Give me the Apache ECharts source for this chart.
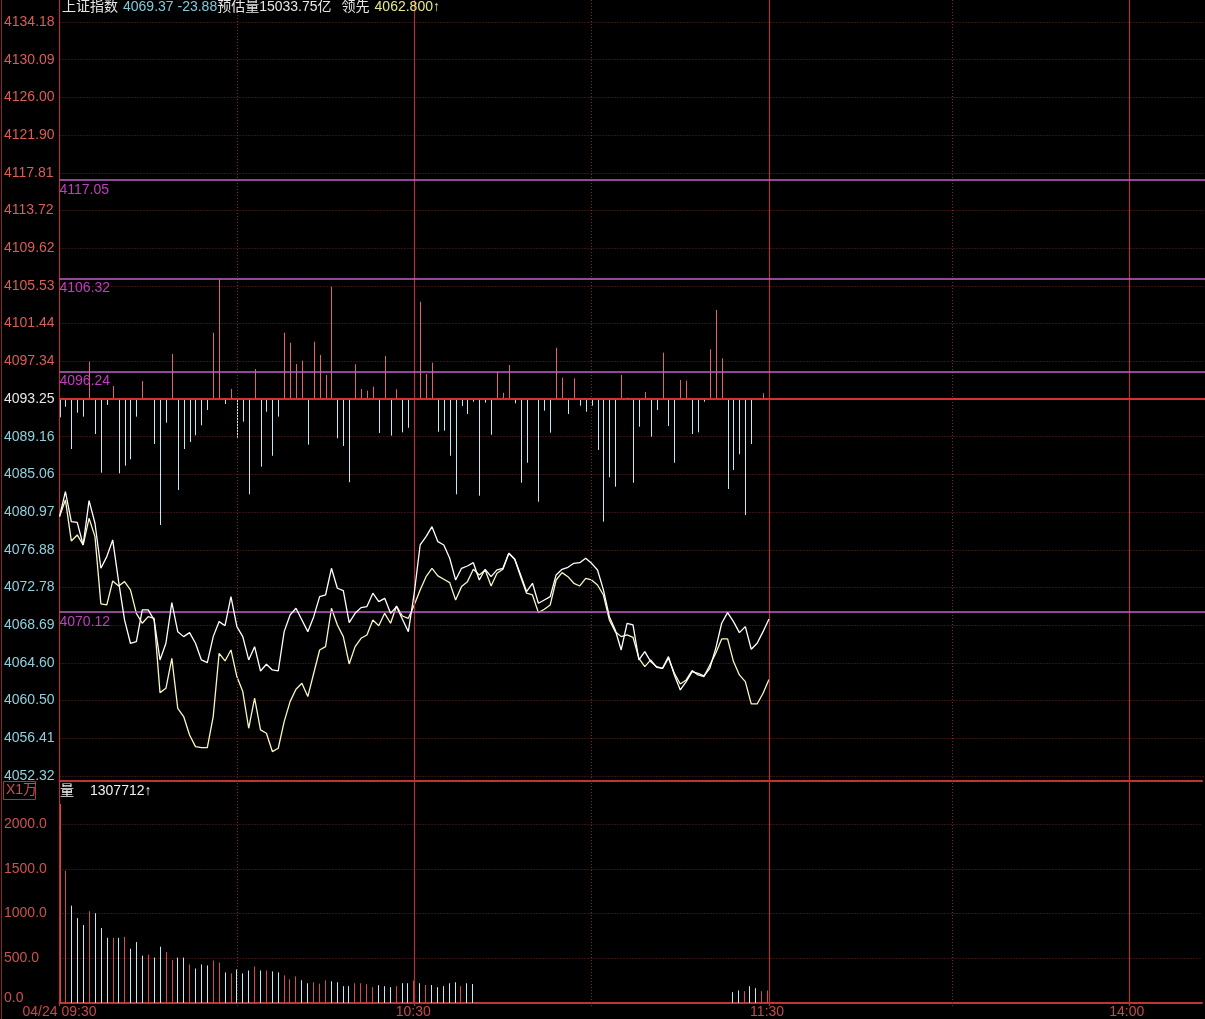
<!DOCTYPE html>
<html><head><meta charset="utf-8">
<script src="https://cdn.jsdelivr.net/npm/echarts@6/dist/echarts.min.js"></script>
<style>html,body{margin:0;padding:0;background:#000;}#c{width:1205px;height:1019px;}</style>
</head><body><div id="c"></div>
<script>
// ---------- data ----------
const prevClose = 4093.25;
const headerName = '上证指数';
const lastPrice = '4069.37';
const lastChange = '-23.88';
const estVolume = '15033.75亿';
const leadLabel = '领先';
const leadValue = '4062.800';
const volLabel = '1307712';
const volUnit = 'X1万';

const priceAxis = { min: 4052.3175, max: 4134.1825, interval: 4.09325 };
const volAxis = { min: 0, max: 2483, interval: 500 };
const refLines = [4117.05, 4106.32, 4096.24, 4070.12];
const xTickMinutes = [0, 60, 120, 181];
const xTickLabels = ['04/24 09:30', '10:30', '11:30', '14:00'];
const gridMinutesSolid = [0, 60, 120, 181];
const gridMinutesDotted = [30, 90, 151];

// price line (white)
const priceA = [
4080.48,4083.19,4079.94,4079.86,4077.40,4082.22,4079.76,4074.87,4076.14,4077.95,
4073.42,4069.26,4066.73,4066.91,4070.35,4070.35,4069.26,4064.92,4066.73,4071.14,
4067.99,4067.45,4067.88,4066.73,4064.92,4064.63,4067.45,4069.08,4068.64,4071.79,
4068.54,4067.45,4064.92,4066.36,4063.72,4064.45,4063.83,4063.72,4067.99,4069.80,
4070.53,4069.26,4067.99,4069.62,4071.79,4071.97,4074.87,4072.70,4072.44,4068.97,
4069.98,4070.60,4070.71,4072.16,4071.25,4071.61,4069.98,4070.71,4069.33,4067.99,
4072.16,4077.40,4078.31,4079.39,4077.76,4077.40,4075.96,4073.60,4074.87,4075.12,
4075.48,4073.60,4074.76,4073.96,4074.69,4074.87,4076.50,4075.85,4074.15,4072.34,
4073.24,4071.07,4071.43,4071.79,4074.15,4074.76,4074.98,4075.41,4075.48,4075.96,
4075.41,4074.69,4072.52,4069.62,4068.17,4066.00,4068.90,4068.72,4064.92,4065.82,
4064.74,4064.19,4064.01,4065.28,4063.29,4061.66,4062.57,4063.65,4063.47,4063.18,
4064.01,4066.18,4068.90,4070.06,4069.08,4067.88,4068.54,4066.08,4066.73,4067.99,
4069.37];

// leading line (yellow)
const leadB = [
4080.48,4082.29,4077.84,4078.49,4077.40,4080.30,4078.31,4071.00,4070.89,4073.49,
4072.95,4073.42,4072.52,4069.98,4068.90,4069.62,4069.44,4061.37,4061.84,4065.10,
4059.67,4058.77,4056.77,4055.51,4055.40,4055.40,4058.77,4065.64,4064.81,4066.00,
4063.11,4061.48,4057.50,4060.76,4057.32,4056.96,4054.97,4055.33,4058.22,4060.39,
4061.73,4062.38,4060.94,4063.47,4066.00,4066.36,4070.53,4068.72,4067.45,4064.48,
4066.36,4067.27,4067.63,4069.26,4068.64,4069.98,4068.90,4070.78,4069.69,4069.44,
4070.89,4072.52,4073.96,4074.87,4074.04,4073.68,4073.31,4071.43,4072.88,4073.42,
4074.76,4074.15,4074.69,4072.95,4074.33,4074.76,4076.50,4075.85,4073.96,4072.16,
4071.97,4070.06,4070.42,4070.89,4073.60,4074.40,4073.96,4073.24,4072.95,4073.78,
4073.60,4073.06,4071.97,4069.26,4067.99,4067.45,4067.63,4067.38,4065.10,4064.19,
4064.92,4064.12,4064.01,4065.10,4063.47,4062.31,4062.75,4063.76,4063.29,4063.11,
4064.37,4065.64,4067.20,4067.20,4064.74,4063.29,4062.57,4060.14,4060.14,4061.30,
4062.80];

// red/blue strength bars (bar end on the price scale; base = prevClose)
const strength = [
4091.26,4092.41,4087.82,4091.76,4091.33,4097.30,4089.45,4085.25,4092.60,4094.66,
4085.18,4086.01,4086.70,4091.33,4095.20,4093.25,4088.36,4079.57,4090.68,4098.14,
4083.37,4087.82,4088.58,4089.31,4090.39,4092.06,4100.45,4106.25,4092.71,4094.34,
4089.05,4090.79,4082.90,4096.51,4085.90,4091.87,4087.09,4091.33,4100.45,4099.36,
4097.05,4097.41,4088.29,4099.47,4098.03,4095.86,4105.44,4088.98,4088.15,4084.21,
4097.02,4094.34,4094.15,4094.59,4089.56,4097.92,4089.27,4094.30,4089.63,4090.13,
4105.52,4103.81,4095.96,4097.19,4089.70,4089.81,4087.09,4082.90,4092.49,4091.62,
4092.96,4082.75,4092.85,4089.37,4096.21,4093.93,4096.94,4092.78,4084.16,4086.33,
4093.25,4082.10,4091.98,4089.59,4098.82,4095.56,4091.62,4095.50,4092.52,4091.87,
4092.52,4087.71,4079.93,4084.75,4083.73,4095.86,4093.40,4084.16,4090.24,4094.01,
4089.16,4092.06,4098.28,4090.32,4086.33,4095.31,4095.24,4089.45,4089.63,4092.96,
4098.65,4102.91,4097.67,4083.48,4085.54,4087.25,4080.65,4088.36,4093.25,4093.87,
4099.11];

// volume (x1万), null where the picture shows no bar
const volume = [
2226,1479,1089,949,872,1027,1005,839,729,729,
729,740,607,681,530,541,508,629,570,482,
508,508,431,386,431,420,475,453,342,331,
375,331,364,408,364,364,353,342,309,265,
298,254,221,232,217,254,243,232,188,188,
221,221,210,177,199,188,177,188,221,221,
250,221,202,202,177,188,221,232,188,221,
213,null,null,null,null,null,null,null,null,null,
null,null,null,null,null,null,null,null,null,null,
null,null,null,null,null,null,null,null,null,null,
null,null,null,null,null,null,null,null,null,null,
null,null,null,null,121,140,132,188,166,132,
140];
// 1 = up (red), -1 = down (blue), 0 = none
const volDir = [
1,1,-1,-1,-1,1,-1,-1,-1,1,
-1,1,-1,-1,-1,1,-1,-1,1,1,
-1,-1,1,-1,-1,-1,1,1,-1,1,
-1,-1,-1,1,-1,1,-1,-1,1,1,
1,-1,-1,1,1,1,-1,-1,-1,-1,
1,1,1,1,-1,-1,-1,1,-1,-1,
1,-1,1,-1,-1,-1,-1,-1,1,-1,
-1,0,0,0,0,0,0,0,0,0,
0,0,0,0,0,0,0,0,0,0,
0,0,0,0,0,0,0,0,0,0,
0,0,0,0,0,0,0,0,0,0,
0,0,0,0,-1,-1,1,-1,-1,1,
1];

// ---------- chart ----------
const X_MAX = 193.75;
const GL = 59.5;
const RED = '#e06666', BLUE = '#bfe9f5';
const FONT = '"Liberation Sans", Arial, "Noto Sans CJK SC", sans-serif';
const chart = echarts.init(document.getElementById('c'));

const toPairs = arr => arr.map((v, i) => [i, v]);

const vLines = [];
gridMinutesDotted.forEach(m => vLines.push({ xAxis: m, lineStyle: { color: '#7a2a2a', type: [1, 2], width: 1 } }));
gridMinutesSolid.forEach(m => vLines.push({ xAxis: m, lineStyle: { color: '#b03434', type: 'solid', width: 1.2 } }));

const hLines = refLines.map(v => ({ yAxis: v, lineStyle: { color: '#c060c8', width: 1.5, type: 'solid' },
  label: { show: true, position: 'insideStartBottom', formatter: p => p.value.toFixed(2), color: '#c43cc4', fontSize: 14, fontFamily: FONT, distance: [0, 3] } }));
hLines.push({ yAxis: prevClose, lineStyle: { color: '#d83030', width: 2, type: 'solid' }, label: { show: false } });

const option = {
  backgroundColor: '#000',
  animation: false,
  textStyle: { fontFamily: FONT },
  title: {
    left: 62, top: -2, padding: 0,
    text: `{w|${headerName}} {c|${lastPrice} ${lastChange}}{w|预估量${estVolume}}  {w|${leadLabel}} {y|${leadValue}↑}`,
    textStyle: { fontWeight: 'normal', rich: {
      w: { color: '#e6e6e6', fontSize: 14, fontFamily: FONT, fontWeight: 'normal' },
      c: { color: '#7fcbdc', fontSize: 14, fontFamily: FONT, fontWeight: 'normal' },
      y: { color: '#e8e88c', fontSize: 14, fontFamily: FONT, fontWeight: 'normal' }
    } }
  },
  graphic: [
    { type: 'line', shape: { x1: 1.5, y1: 0, x2: 1.5, y2: 1019 }, style: { stroke: '#8a2626', lineWidth: 1 } },
    { type: 'rect', shape: { x: 3.5, y: 781.5, width: 32, height: 18 }, style: { stroke: '#b03434', fill: 'none', lineWidth: 1 } },
    { type: 'text', left: 6, top: 783, style: { text: volUnit, fill: '#d04a4a', font: '14px ' + FONT } },
    { type: 'text', left: 60, top: 784, style: { text: '量', fill: '#f0f0f0', font: '14px ' + FONT } },
    { type: 'text', left: 90, top: 784, style: { text: volLabel + '↑', fill: '#f0f0f0', font: '14px ' + FONT } }
  ],
  grid: [
    { left: GL, right: 0, top: 22, height: 754 },
    { left: GL, right: 0, top: 781, height: 225 },
    { left: GL, right: 0, top: 0, height: 1006 }
  ],
  xAxis: [
    { gridIndex: 0, type: 'value', min: 0, max: X_MAX, show: false },
    { gridIndex: 1, type: 'value', min: 0, max: X_MAX, interval: 1,
      axisLine: { show: true, lineStyle: { color: '#c03434', width: 2 } },
      axisTick: { show: false }, splitLine: { show: false },
      axisLabel: { color: '#c84a4a', fontSize: 14, margin: 2, fontFamily: FONT,
        formatter: v => { const k = xTickMinutes.indexOf(Math.round(v * 100) / 100); return k < 0 ? '' : xTickLabels[k]; } } },
    { gridIndex: 1, type: 'value', position: 'top', min: 0, max: X_MAX,
      axisLine: { show: true, lineStyle: { color: '#c03434', width: 2 } },
      axisTick: { show: false }, axisLabel: { show: false }, splitLine: { show: false } },
    { gridIndex: 2, type: 'value', min: 0, max: X_MAX, show: false }
  ],
  yAxis: [
    { gridIndex: 0, type: 'value', min: priceAxis.min, max: priceAxis.max, interval: priceAxis.interval,
      axisLine: { show: true, lineStyle: { color: '#b03434', width: 1 } },
      axisTick: { show: false },
      splitLine: { show: true, lineStyle: { color: '#6e2424', type: [1, 2], width: 1 } },
      axisLabel: { align: 'left', margin: 55.5, fontSize: 14, fontFamily: FONT,
        formatter: v => v.toFixed(2),
        color: (val) => { const n = parseFloat(val); if (Math.abs(n - prevClose) < 0.01) return '#e8e8e8'; return n > prevClose ? '#dc5c58' : '#8fd0dc'; } } },
    { gridIndex: 1, type: 'value', min: volAxis.min, max: volAxis.max, interval: volAxis.interval,
      axisLine: { show: true, lineStyle: { color: '#b03434', width: 1 } },
      axisTick: { show: false },
      splitLine: { show: true, lineStyle: { color: '#6e2424', type: [1, 2], width: 1 } },
      axisLabel: { align: 'left', margin: 55.5, fontSize: 14, color: '#cc5252', fontFamily: FONT, showMaxLabel: false,
        formatter: v => v === 0 ? '{z|0.0}' : v.toFixed(1),
        rich: { z: { padding: [0, 0, 10, 0], color: '#cc5252', fontSize: 14, fontFamily: FONT } } } },
    { gridIndex: 2, type: 'value', min: 0, max: 1, show: false }
  ],
  series: [
    { type: 'scatter', xAxisIndex: 3, yAxisIndex: 2, data: [[0, 0]], symbolSize: 0, silent: true, z: 0,
      markLine: { silent: true, symbol: ['none', 'none'], label: { show: false }, data: vLines } },
    { type: 'custom', name: 'strength', xAxisIndex: 0, yAxisIndex: 0, z: 3,
      data: toPairs(strength), encode: { x: 0, y: 1 },
      renderItem: (params, api) => {
        const v = api.value(1);
        const p0 = api.coord([api.value(0), prevClose]);
        const p1 = api.coord([api.value(0), v]);
        if (Math.abs(p1[1] - p0[1]) < 0.5) return null;
        const x = Math.round(p0[0]) + 0.5;
        return { type: 'line', shape: { x1: x, y1: p0[1], x2: x, y2: p1[1] },
          style: { stroke: v > prevClose ? RED : BLUE, lineWidth: 1 } };
      } },
    { type: 'line', name: 'lead', xAxisIndex: 0, yAxisIndex: 0, z: 4, data: toPairs(leadB),
      showSymbol: false, symbol: 'none', lineStyle: { color: '#fbf6c0', width: 1.3 } },
    { type: 'line', name: 'price', xAxisIndex: 0, yAxisIndex: 0, z: 5, data: toPairs(priceA),
      showSymbol: false, symbol: 'none', lineStyle: { color: '#ffffff', width: 1.3 },
      markLine: { silent: true, symbol: ['none', 'none'], data: hLines } },
    { type: 'custom', name: 'volume', xAxisIndex: 1, yAxisIndex: 1, z: 3,
      data: volume.map((v, i) => [i, v, volDir[i]]), encode: { x: 0, y: 1 },
      renderItem: (params, api) => {
        const v = api.value(1);
        if (v == null || isNaN(v)) return null;
        const p0 = api.coord([api.value(0), 0]);
        const p1 = api.coord([api.value(0), v]);
        const x = Math.round(p0[0]) + 0.5;
        return { type: 'line', shape: { x1: x, y1: p0[1], x2: x, y2: p1[1] },
          style: { stroke: api.value(2) > 0 ? '#d24c4c' : BLUE, lineWidth: 1 } };
      } }
  ]
};
chart.setOption(option);
</script>
</body></html>
